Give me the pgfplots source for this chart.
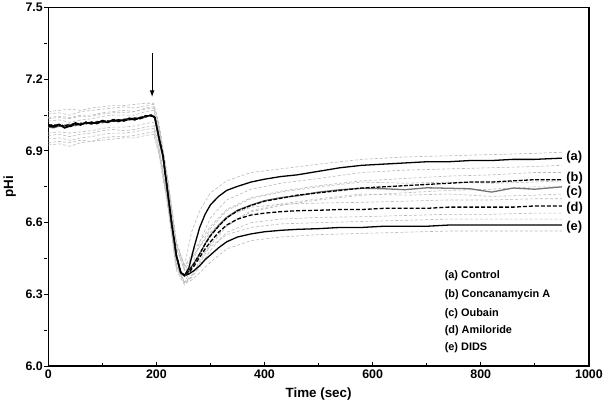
\documentclass[border=0pt]{standalone}
\usepackage{fontspec}
\setmainfont{Liberation Sans}
\usepackage{pgfplots}
\usepackage{pgfplotstable}
\pgfplotsset{compat=1.18}
\usetikzlibrary{arrows.meta}

% mean traces
\pgfplotstableread{
t a b c d e
0 7.005 7.010 7.000 7.008 7.003
10 7.000 7.004 6.997 7.010 7.006
20 7.010 7.006 7.004 7.002 7.012
30 6.998 7.008 7.002 7.006 6.996
40 7.006 7.002 7.010 7.012 7.004
50 7.015 7.010 7.006 7.014 7.018
60 7.010 7.016 7.012 7.008 7.011
70 7.020 7.014 7.018 7.022 7.016
80 7.014 7.020 7.012 7.016 7.021
90 7.021 7.016 7.024 7.018 7.014
100 7.025 7.022 7.018 7.026 7.028
110 7.019 7.026 7.024 7.020 7.022
120 7.030 7.024 7.028 7.032 7.026
130 7.024 7.030 7.022 7.026 7.031
140 7.031 7.027 7.034 7.028 7.025
150 7.036 7.032 7.030 7.038 7.034
160 7.030 7.036 7.033 7.031 7.038
170 7.040 7.036 7.042 7.038 7.035
180 7.044 7.048 7.041 7.046 7.043
190 7.050 7.046 7.052 7.048 7.051
197 7.040 7.042 7.038 7.044 7.040
205 6.950 6.955 6.945 6.952 6.948
212 6.880 6.885 6.875 6.882 6.878
220 6.740 6.745 6.735 6.742 6.738
228 6.600 6.605 6.595 6.602 6.598
237 6.460 6.465 6.455 6.462 6.458
245 6.390 6.395 6.388 6.392 6.390
252 6.380 6.378 6.376 6.380 6.378
260 6.410 6.398 6.400 6.390 6.385
270 6.500 6.430 6.432 6.420 6.400
280 6.580 6.470 6.468 6.455 6.420
290 6.635 6.510 6.512 6.490 6.445
300 6.675 6.545 6.548 6.520 6.465
315 6.710 6.585 6.588 6.560 6.495
330 6.735 6.620 6.622 6.590 6.520
350 6.752 6.650 6.652 6.615 6.540
375 6.770 6.672 6.674 6.632 6.553
400 6.782 6.690 6.692 6.640 6.562
430 6.793 6.702 6.705 6.646 6.568
460 6.800 6.715 6.712 6.650 6.572
500 6.815 6.725 6.728 6.652 6.575
540 6.830 6.735 6.738 6.655 6.580
580 6.840 6.745 6.744 6.655 6.580
620 6.845 6.750 6.742 6.660 6.585
660 6.850 6.755 6.738 6.660 6.585
700 6.855 6.760 6.746 6.660 6.585
740 6.855 6.765 6.744 6.665 6.590
780 6.860 6.770 6.742 6.665 6.590
820 6.860 6.770 6.728 6.665 6.590
860 6.865 6.775 6.745 6.665 6.590
900 6.865 6.780 6.740 6.670 6.590
950 6.870 6.780 6.750 6.670 6.590
}\means

% +/- SD traces
\pgfplotstableread{
t ah al bh bl ch cl dh dl eh el
0 7.040 6.950 7.055 6.975 7.025 6.925 7.065 6.965 7.035 6.935
20 7.045 6.955 7.060 6.980 7.030 6.930 7.070 6.970 7.040 6.940
40 7.040 6.945 7.050 6.975 7.020 6.920 7.075 6.960 7.035 6.935
60 7.050 6.955 7.065 6.980 7.030 6.935 7.070 6.970 7.045 6.945
80 7.050 6.960 7.070 6.985 7.035 6.940 7.080 6.975 7.045 6.940
100 7.060 6.970 7.075 6.995 7.045 6.945 7.085 6.985 7.055 6.955
120 7.065 6.975 7.080 7.000 7.050 6.950 7.090 6.990 7.060 6.960
140 7.070 6.975 7.085 7.000 7.050 6.955 7.090 6.985 7.060 6.960
160 7.065 6.980 7.080 7.005 7.050 6.955 7.095 6.990 7.065 6.965
180 7.080 6.990 7.090 7.015 7.065 6.965 7.100 7.000 7.075 6.975
195 7.085 6.995 7.095 7.020 7.070 6.970 7.100 7.005 7.080 6.980
205 7.000 6.900 7.010 6.920 6.980 6.880 7.010 6.910 6.990 6.890
220 6.790 6.700 6.800 6.710 6.770 6.680 6.800 6.700 6.780 6.690
237 6.510 6.420 6.520 6.430 6.490 6.400 6.520 6.420 6.500 6.410
252 6.420 6.350 6.410 6.350 6.400 6.340 6.420 6.350 6.400 6.345
265 6.560 6.410 6.470 6.380 6.450 6.375 6.450 6.370 6.420 6.360
280 6.650 6.520 6.520 6.430 6.500 6.440 6.500 6.415 6.460 6.390
300 6.725 6.620 6.585 6.505 6.575 6.515 6.560 6.485 6.500 6.435
330 6.775 6.695 6.655 6.585 6.650 6.590 6.625 6.560 6.550 6.490
375 6.810 6.740 6.705 6.645 6.700 6.650 6.665 6.600 6.580 6.525
430 6.825 6.765 6.732 6.672 6.728 6.678 6.677 6.615 6.595 6.540
500 6.845 6.785 6.755 6.695 6.750 6.700 6.682 6.622 6.600 6.550
580 6.865 6.810 6.775 6.715 6.770 6.720 6.685 6.625 6.605 6.555
660 6.875 6.820 6.785 6.725 6.765 6.715 6.690 6.630 6.610 6.560
740 6.880 6.825 6.795 6.735 6.770 6.720 6.695 6.635 6.615 6.565
820 6.885 6.830 6.800 6.740 6.765 6.710 6.695 6.635 6.615 6.565
900 6.890 6.835 6.810 6.750 6.770 6.715 6.700 6.640 6.615 6.565
950 6.895 6.840 6.810 6.750 6.775 6.720 6.700 6.640 6.615 6.565
}\bands

\begin{document}
\begin{tikzpicture}
\begin{axis}[
  scale only axis,
  width=543bp, height=360bp,
  xmin=0, xmax=1000, ymin=6.0, ymax=7.5,
  xtick={0,200,...,1000},
  ytick={6.0,6.3,6.6,6.9,7.2,7.5},
  minor x tick num=1, minor y tick num=1,
  tick pos=left,
  tick align=inside,
  major tick length=4bp, minor tick length=3bp,
  y tick style={xshift=-4bp},
  tick style={black, line width=1bp},
  xticklabel style={/pgf/number format/1000 sep={}},
  yticklabel style={/pgf/number format/fixed, /pgf/number format/precision=1,
    /pgf/number format/fixed zerofill, xshift=-2bp},
  /pgf/number format/assume math mode=true,
  ticklabel style={font=\fontsize{12.5}{14}\selectfont\bfseries},
  axis line style={line width=1.5bp},
  xlabel={Time (sec)}, ylabel={pHi},
  label style={font=\fontsize{13.5}{16}\selectfont\bfseries},
  xlabel style={yshift=-3bp},
  ylabel style={yshift=3bp},
  clip=false,
]
\foreach \col in {ah,al,bh,bl,ch,cl,dh,dl,eh,el}{
  \addplot[gray!55, line width=0.6bp, dash pattern=on 3bp off 2bp] table[x=t, y=\col] {\bands};
}
\addplot[black, line width=1.3bp] table[x=t, y=e] {\means};
\addplot[black, line width=1.3bp, dash pattern=on 4bp off 2bp] table[x=t, y=d] {\means};
\addplot[black!55, line width=1.3bp] table[x=t, y=c] {\means};
\addplot[black, line width=1.3bp, dash pattern=on 4bp off 1.5bp] table[x=t, y=b] {\means};
\addplot[black, line width=1.3bp] table[x=t, y=a] {\means};

\draw[-{Latex[length=7bp,width=5bp]}, line width=1.2bp] (axis cs:192,7.31) -- (axis cs:192,7.125);

\begin{scope}[font=\fontsize{13}{15}\selectfont\bfseries]
\node[anchor=west, inner sep=0pt] at (axis cs:958,6.875) {(a)};
\node[anchor=west, inner sep=0pt] at (axis cs:958,6.785) {(b)};
\node[anchor=west, inner sep=0pt] at (axis cs:958,6.728) {(c)};
\node[anchor=west, inner sep=0pt] at (axis cs:958,6.66) {(d)};
\node[anchor=west, inner sep=0pt] at (axis cs:958,6.58) {(e)};
\end{scope}
\begin{scope}[font=\fontsize{11}{13}\selectfont\bfseries]
\node[anchor=west, inner sep=0pt] at (axis cs:733,6.379) {(a) Control};
\node[anchor=west, inner sep=0pt] at (axis cs:733,6.300) {(b) Concanamycin A};
\node[anchor=west, inner sep=0pt] at (axis cs:733,6.221) {(c) Oubain};
\node[anchor=west, inner sep=0pt] at (axis cs:733,6.146) {(d) Amiloride};
\node[anchor=west, inner sep=0pt] at (axis cs:733,6.075) {(e) DIDS};
\end{scope}
\end{axis}
\end{tikzpicture}
\end{document}
